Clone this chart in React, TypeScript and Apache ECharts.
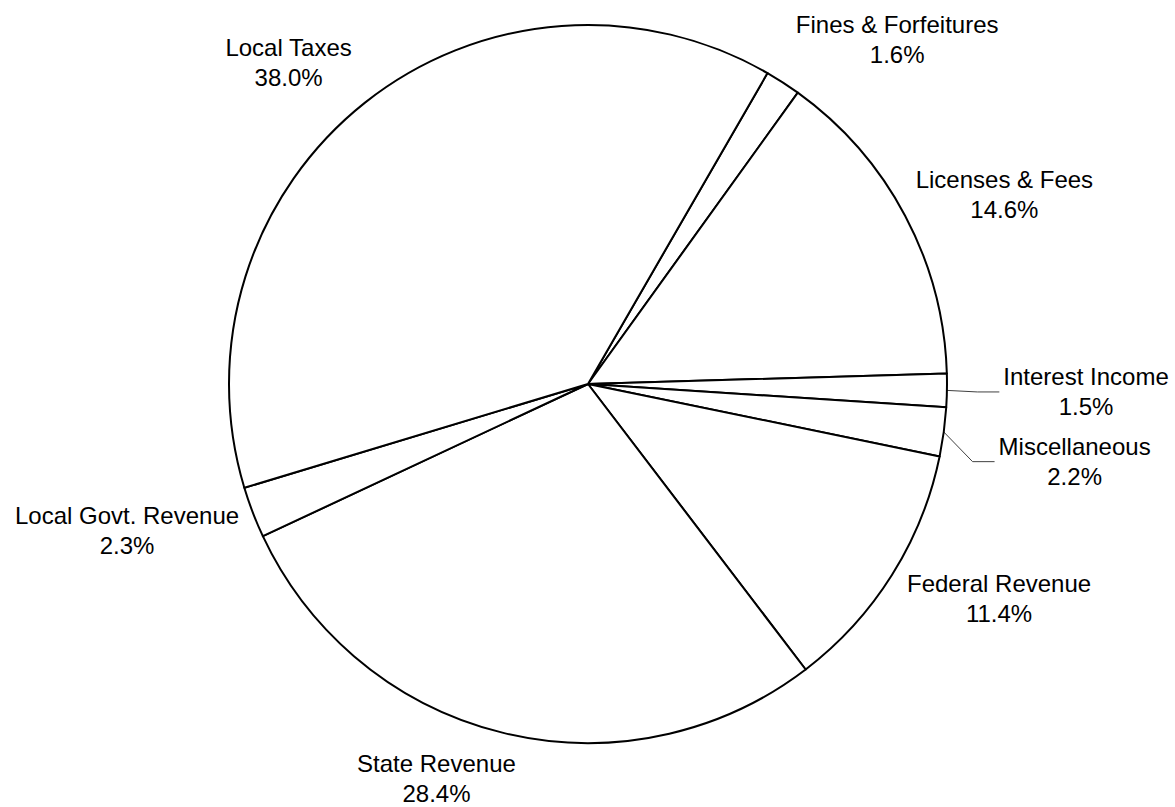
import React, { useEffect, useRef } from "react";
import * as echarts from "echarts";

// ---- data ----
const categories = [
  "Fines & Forfeitures",
  "Licenses & Fees",
  "Interest Income",
  "Miscellaneous",
  "Federal Revenue",
  "State Revenue",
  "Local Govt. Revenue",
  "Local Taxes",
];
const shares = [1.6, 14.6, 1.5, 2.2, 11.4, 28.4, 2.3, 38.0];

// ---- layout / style (not data) ----
const CX = 588;
const CY = 384;
const RADIUS = 359;
const START_CLOCKWISE_FROM_TOP = 30; // degrees
const LABEL_GAP = 20;
// where the anchor sits on each label box (multiples of half width / half height)
const labelFx = [1.02, 0.92, 1.44, 1.46, 0.98, -0.77, -0.955, -1.01];
const labelFy = [-0.875, -0.4, 0.04, 0.9, 0.44, 0.885, 0.38, -0.8];
const hasLeader = [false, false, true, true, false, false, false, false];
const LEADER_TAIL = 22;
const LEADER_GAP = 4;

const total = shares.reduce((a, b) => a + b, 0);
function midAngleRad(i: number): number {
  let acc = 0;
  for (let j = 0; j < i; j++) acc += shares[j];
  const deg = START_CLOCKWISE_FROM_TOP + ((acc + shares[i] / 2) / total) * 360;
  return (deg * Math.PI) / 180;
}

export default function App() {
  const ref = useRef<HTMLDivElement>(null);

  useEffect(() => {
    document.body.style.margin = "0";
    if (!ref.current) return;
    const chart = echarts.init(ref.current, undefined, { renderer: "svg" });

    const data = categories.map((name, i) => ({
      name,
      value: shares[i],
      labelLine: { show: hasLeader[i] },
    }));

    chart.setOption({
      animation: false,
      backgroundColor: "#ffffff",
      series: [
        {
          type: "pie",
          center: [CX, CY],
          radius: RADIUS,
          startAngle: 90 - START_CLOCKWISE_FROM_TOP,
          clockwise: true,
          avoidLabelOverlap: false,
          data,
          itemStyle: {
            color: "#ffffff",
            borderColor: "#000000",
            borderWidth: 2,
          },
          emphasis: { disabled: true },
          label: {
            show: true,
            position: "outside",
            formatter: (p: any) => `${p.name}\n${Number(p.value).toFixed(1)}%`,
            fontFamily: "Liberation Sans, Arial, sans-serif",
            fontSize: 24,
            lineHeight: 30,
            color: "#000000",
          },
          labelLine: {
            show: false,
            lineStyle: { color: "#404040", width: 1 },
          },
          labelLayout: (params: any) => {
            const i = params.dataIndex;
            const th = midAngleRad(i);
            const r = RADIUS + LABEL_GAP;
            const ax = CX + r * Math.sin(th);
            const ay = CY - r * Math.cos(th);
            const W = params.labelRect.width;
            const H = params.labelRect.height;
            const x = ax + (labelFx[i] * W) / 2;
            const y = ay + (labelFy[i] * H) / 2;
            const out: any = { x, y, align: "center", verticalAlign: "middle" };
            if (hasLeader[i]) {
              const sx = CX + RADIUS * Math.sin(th);
              const sy = CY - RADIUS * Math.cos(th);
              const ex = x - W / 2 - LEADER_GAP;
              out.labelLinePoints = [
                [sx, sy],
                [ex - LEADER_TAIL, y],
                [ex, y],
              ];
            }
            return out;
          },
        },
      ],
    });

    return () => chart.dispose();
  }, []);

  return <div ref={ref} style={{ width: 1175, height: 807 }} />;
}
